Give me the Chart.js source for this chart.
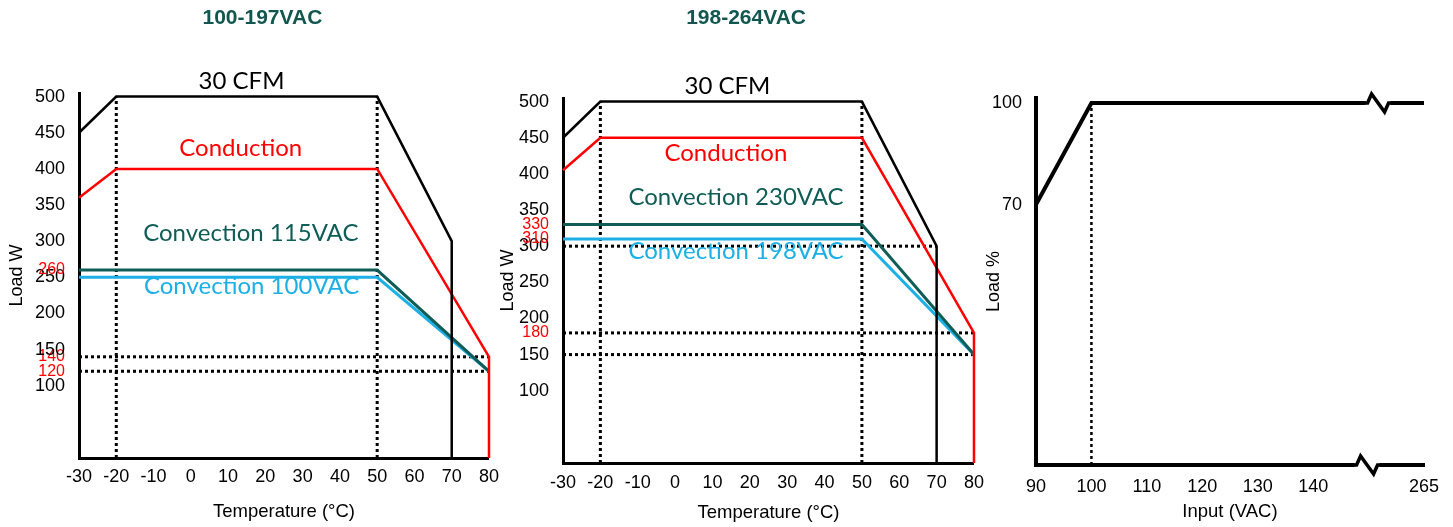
<!DOCTYPE html>
<html><head><meta charset="utf-8">
<script src="https://cdn.jsdelivr.net/npm/chart.js@4/dist/chart.umd.min.js"></script>
<style>
html,body{margin:0;padding:0;background:#fff;width:1453px;height:527px;overflow:hidden}
.box{position:absolute;top:0;height:527px}
canvas{display:block}
</style></head><body>
<div class="box" style="left:0px;width:507px"><canvas id="c1" width="507" height="527"></canvas></div>
<div class="box" style="left:490px;width:503px"><canvas id="c2" width="503" height="527"></canvas></div>
<div class="box" style="left:960px;width:493px"><canvas id="c3" width="493" height="527"></canvas></div>
<script>
// ---------- data ----------
const tempTicks = [-30,-20,-10,0,10,20,30,40,50,60,70,80];
const loadTicks = [100,150,200,250,300,350,400,450,500];

// 100-197VAC
const lowRedTicks   = [260,140,120];
const lowCfmTemp    = [-30,-20,50,70,70];
const lowCfmLoad    = [450,500,500,300,0];
const lowCondTemp   = [-30,-20,50,80,80];
const lowCondLoad   = [360,400,400,140,0];
const low115Temp    = [-30,50,80];
const low115Load    = [260,260,120];
const low100Temp    = [-30,50,80];
const low100Load    = [250,250,120];
const lowVGuideTemp = [-20,50];
const lowVGuideLoad = [0,500];
const lowHGuideLoad = [140,120];
const lowHGuideFrom = [-30,-30];
const lowHGuideTo   = [80,80];

// 198-264VAC
const highRedTicks   = [330,310,180];
const highCfmTemp    = [-30,-20,50,70,70];
const highCfmLoad    = [450,500,500,300,0];
const highCondTemp   = [-30,-20,50,80,80];
const highCondLoad   = [405,450,450,180,0];
const high230Temp    = [-30,50,80];
const high230Load    = [330,330,150];
const high198Temp    = [-30,50,80];
const high198Load    = [310,310,150];
const highVGuideTemp = [-20,50];
const highVGuideLoad = [0,500];
const highHGuideLoad = [300,180,150];
const highHGuideFrom = [-30,-30,-30];
const highHGuideTo   = [70,80,80];

// Input derating
const inputLabels  = ['90','100','110','120','130','140','','265'];
const inputVac     = ['90','100','265'];
const inputLoadPct = [70,100,100];
const inputTicks   = [70,100];
const inputGuideVac = '100';
const inputGuideTop = 100;

// ---------- styling ----------
const FONT = "'Liberation Sans', Arial, sans-serif";
const ANN = "Lato, 'Open Sans', sans-serif";
const TEAL = '#0f5d56';
const TITLE_TEAL = '#12574f';
const BLUE = '#1cb0e6';
const RED = '#ff0000';

function pts(xs, ys){ return xs.map((x,i)=>({x:x, y:ys[i]})); }
function line(data, color, width, dash){
  return {data, borderColor:color, backgroundColor:color, borderWidth:width,
    borderDash:dash||[], pointRadius:0, pointHoverRadius:0, tension:0, fill:false,
    borderCapStyle:'butt', borderJoinStyle:'miter', clip:false};
}
function guides(vT, vL, hL, hF, hT){
  const out = [];
  vT.forEach(t => out.push(line(pts([t,t], vL), '#000', 3, [3,3])));
  hL.forEach((l,i) => out.push(line(pts([hF[i],hT[i]],[l,l]), '#000', 3, [3,3])));
  return out;
}
function textPlugin(items){
  return {id:'texts', afterDraw(chart){
    const {ctx, scales:{x,y}} = chart;
    ctx.save();
    items.forEach(it=>{
      ctx.font = it.font; ctx.fillStyle = it.color;
      ctx.textAlign = 'center'; ctx.textBaseline = 'middle';
      ctx.fillText(it.text, x.getPixelForValue(it.x), y.getPixelForValue(it.y));
    });
    ctx.restore();
  }};
}
function tempChart(id, o){
  const allTicks = loadTicks.concat(o.red).sort((a,b)=>a-b);
  return new Chart(document.getElementById(id), {
    type:'line',
    data:{datasets:o.datasets},
    plugins:[textPlugin(o.texts)],
    options:{
      responsive:false, animation:false, events:[],
      layout:{padding:{top:o.top, right:0, left:0, bottom:0}},
      plugins:{legend:{display:false}, tooltip:{enabled:false}},
      scales:{
        x:{type:'linear', min:-30, max:80,
          afterBuildTicks:s=>{ s.ticks = tempTicks.map(v=>({value:v})); },
          afterFit:s=>{ s.height = o.xh; },
          grid:{display:false, drawTicks:false},
          border:{display:true, color:'#000', width:3},
          ticks:{autoSkip:false, maxRotation:0, padding:o.xpad, color:'#000', font:{family:FONT, size:18}},
          title:{display:true, text:'Temperature (°C)', color:'#000', font:{family:FONT, size:18.5}, padding:{top:0, bottom:o.xtpad}}
        },
        y:{type:'linear', min:0, max:505,
          afterBuildTicks:s=>{ s.ticks = allTicks.map(v=>({value:v})); },
          afterFit:s=>{ s.width = o.yw; },
          grid:{display:false, drawTicks:false},
          border:{display:true, color:'#000', width:3},
          ticks:{autoSkip:false, padding:14,
            color:c=> o.red.includes(c.tick && c.tick.value) ? RED : '#000',
            font:c=> ({family:FONT, size: o.red.includes(c.tick && c.tick.value) ? 16 : 18})},
          title:{display:true, text:'Load W', color:'#000', font:{family:FONT, size:18}, padding:{top:o.ytpad, bottom:0}}
        }
      }
    }
  });
}

tempChart('c1', {
  red: lowRedTicks, top:93, xh:69, xpad:8, xtpad:4, yw:79, ytpad:6,
  datasets:[
    line(pts(lowCfmTemp, lowCfmLoad), '#000', 2.5),
    line(pts(lowCondTemp, lowCondLoad), RED, 2.5),
    line(pts(low115Temp, low115Load), TEAL, 3),
    line(pts(low100Temp, low100Load), BLUE, 3),
  ].concat(guides(lowVGuideTemp, lowVGuideLoad, lowHGuideLoad, lowHGuideFrom, lowHGuideTo)),
  texts:[
    {text:'100-197VAC', x:19.2, y:608, font:'bold 21px '+FONT, color:TITLE_TEAL},
    {text:'30 CFM', x:13.6, y:521, font:'24px '+ANN, color:'#000'},
    {text:'Conduction', x:13.4, y:429, font:'24px '+ANN, color:RED},
    {text:'Convection 115VAC', x:16.1, y:311, font:'24px '+ANN, color:TEAL},
    {text:'Convection 100VAC', x:16.3, y:238, font:'24px '+ANN, color:BLUE},
  ]
});

tempChart('c2', {
  red: highRedTicks, top:98, xh:64, xpad:9, xtpad:3, yw:73, ytpad:7,
  datasets:[
    line(pts(highCfmTemp, highCfmLoad), '#000', 2.5),
    line(pts(highCondTemp, highCondLoad), RED, 2.5),
    line(pts(high230Temp, high230Load), TEAL, 3),
    line(pts(high198Temp, high198Load), BLUE, 3),
  ].concat(guides(highVGuideTemp, highVGuideLoad, highHGuideLoad, highHGuideFrom, highHGuideTo)),
  texts:[
    {text:'198-264VAC', x:19, y:615, font:'bold 21px '+FONT, color:TITLE_TEAL},
    {text:'30 CFM', x:14, y:521.6, font:'24px '+ANN, color:'#000'},
    {text:'Conduction', x:13.6, y:429, font:'24px '+ANN, color:RED},
    {text:'Convection 230VAC', x:16.3, y:368, font:'24px '+ANN, color:TEAL},
    {text:'Convection 198VAC', x:16.3, y:293, font:'24px '+ANN, color:BLUE},
  ]
});

// input derating chart with broken x axis
const breakPlugin = {
  id:'breaks',
  beforeDatasetsDraw(chart){
    const {ctx, chartArea, scales:{x,y}} = chart;
    const gx = x.getPixelForValue(inputLabels.indexOf(inputGuideVac));
    ctx.save();
    ctx.strokeStyle = '#000'; ctx.lineWidth = 2.5; ctx.setLineDash([3,3]);
    ctx.beginPath(); ctx.moveTo(gx, chartArea.bottom); ctx.lineTo(gx, y.getPixelForValue(inputGuideTop)); ctx.stroke();
    ctx.restore();
  },
  afterDraw(chart){
    const {ctx, chartArea, scales:{x,y}} = chart;
    const base = x.getPixelForValue(6);
    const marks = [[base+9, y.getPixelForValue(inputGuideTop)], [base-2, chartArea.bottom]];
    ctx.save();
    marks.forEach(([cx,cy])=>{
      ctx.fillStyle = '#fff';
      ctx.fillRect(cx-12, cy-13, 25, 26);
      ctx.strokeStyle = '#000'; ctx.lineWidth = 3.5; ctx.lineJoin = 'miter';
      ctx.beginPath();
      ctx.moveTo(cx-14, cy); ctx.lineTo(cx-10, cy); ctx.lineTo(cx-6, cy-9);
      ctx.lineTo(cx+7, cy+9); ctx.lineTo(cx+11, cy); ctx.lineTo(cx+15, cy);
      ctx.stroke();
    });
    ctx.restore();
  }
};

new Chart(document.getElementById('c3'), {
  type:'line',
  data:{labels: inputLabels, datasets:[ line(pts(inputVac, inputLoadPct), '#000', 4) ]},
  plugins:[breakPlugin],
  options:{
    responsive:false, animation:false, events:[],
    layout:{padding:{top:98, right:29, left:0, bottom:0}},
    plugins:{legend:{display:false}, tooltip:{enabled:false}},
    scales:{
      x:{type:'category', offset:false,
        afterFit:s=>{ s.height = 62; },
        grid:{display:false, drawTicks:false},
        border:{display:true, color:'#000', width:4},
        ticks:{autoSkip:false, maxRotation:0, padding:11, color:'#000', font:{family:FONT, size:18}},
        title:{display:true, text:'Input (VAC)', color:'#000', font:{family:FONT, size:18.5}, padding:{top:0, bottom:4}}
      },
      y:{type:'linear', min:-7, max:101.5,
        afterBuildTicks:s=>{ s.ticks = inputTicks.map(v=>({value:v})); },
        afterFit:s=>{ s.width = 76; },
        grid:{display:false, drawTicks:false},
        border:{display:true, color:'#000', width:4},
        ticks:{autoSkip:false, padding:14, color:'#000', font:{family:FONT, size:18}},
        title:{display:true, text:'Load %', color:'#000', font:{family:FONT, size:18}, padding:{top:23, bottom:0}}
      }
    }
  }
});
</script>
</body></html>
